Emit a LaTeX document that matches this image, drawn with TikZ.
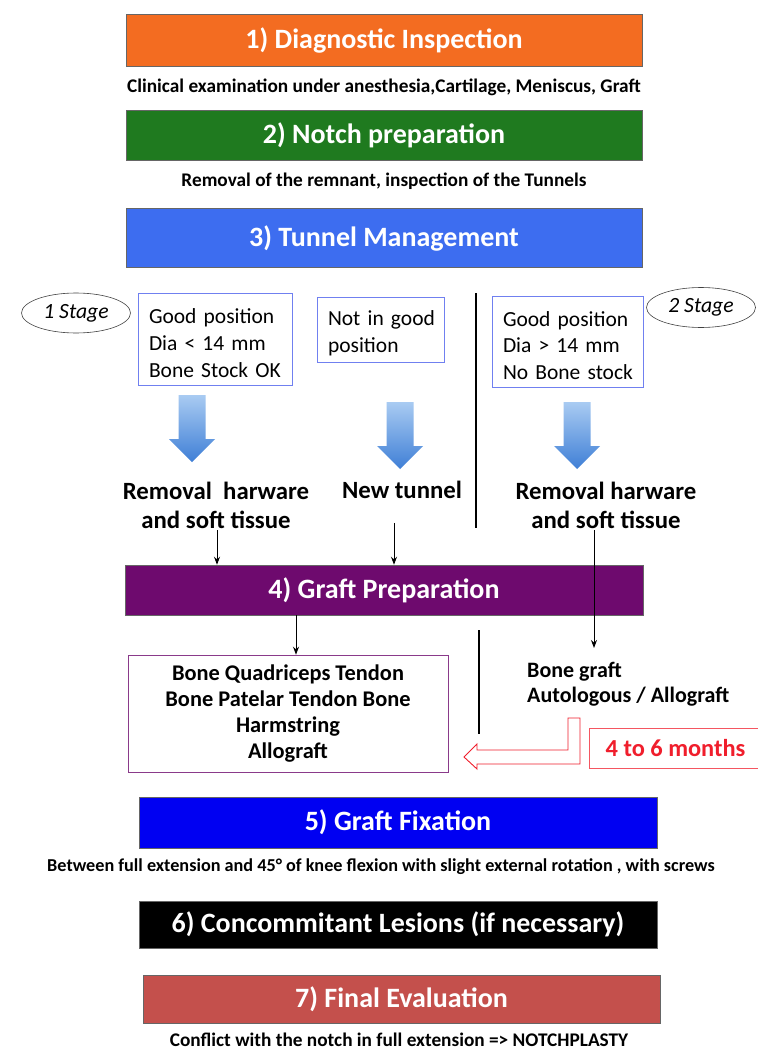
\documentclass[tikz,border=0pt]{standalone}
\usepackage{fontspec}
\setmainfont{Carlito}
\usetikzlibrary{shapes.geometric,arrows.meta,calc}
\definecolor{cone}{HTML}{F36C21}
\definecolor{ctwo}{HTML}{1F7A1F}
\definecolor{cthree}{HTML}{3D6DF0}
\definecolor{cfour}{HTML}{6E0A6E}
\definecolor{cfive}{HTML}{0000F2}
\definecolor{cseven}{HTML}{C4504C}
\definecolor{condblue}{HTML}{7080F0}
\definecolor{gpurple}{HTML}{8A3A8A}
\definecolor{redc}{HTML}{F01E2C}
\definecolor{arrtop}{HTML}{A9CBF2}
\definecolor{arrbot}{HTML}{3F7FD6}
\begin{document}
\begin{tikzpicture}[x=1pt,y=-1pt,
  bar/.style={draw=black!60, line width=0.5pt, minimum width=516pt, inner sep=0pt, text=white, font=\fontsize{28}{32}\selectfont\bfseries},
  sub/.style={inner sep=1pt, font=\fontsize{19.3}{22}\selectfont\bfseries},
  cond/.style={draw=condblue, line width=0.6pt, inner xsep=11pt, inner ysep=0pt, align=left, font=\fontsize{21.5}{26.7}\selectfont},
  stage/.style={ellipse, draw=black!75, line width=0.6pt, inner sep=0pt, minimum width=109pt, minimum height=40pt, font=\fontsize{21.7}{24}\selectfont\itshape},
  lab/.style={inner sep=1pt, align=center, font=\fontsize{24.8}{29}\selectfont\bfseries},
  conn/.style={-{Stealth[length=8pt,width=6pt]}, line width=1pt, black},
  sep/.style={line width=1.3pt, black},
  barrow/.pic={\shade[top color=arrtop, bottom color=arrbot] (-13.5,0) -- (13.5,0) -- (13.5,44) -- (23,44) -- (0,67) -- (-23,44) -- (-13.5,44) -- cycle;}
]
\path[use as bounding box, fill=white] (0,0) rectangle (757,1051);

\node[bar, fill=cone, minimum height=52pt] (b1) at (384,40) {1) Diagnostic Inspection};
\node[sub] (s1) at (384,87) {Clinical examination under anesthesia,Cartilage, Meniscus, Graft};
\node[bar, fill=ctwo, minimum height=50pt] (b2) at (384,135) {2) Notch preparation};
\node[sub] (s2) at (384,181) {Removal of the remnant, inspection of the Tunnels};
\node[bar, fill=cthree, minimum height=59pt] (b3) at (384,238) {3) Tunnel Management};

\node[stage] (e1) at (76,313) {1 Stage};
\node[stage] (e2) at (701,307.5) {2 Stage};
\node[cond, text width=132pt, minimum height=92pt] (m1) at (215,339) {\rule{0pt}{23pt}\mbox{Good position}\\\mbox{Dia < 14 mm}\\\mbox{Bone Stock OK}};
\node[cond, text width=105pt, minimum height=65pt] (m2) at (380.5,329.5) {\rule{0pt}{23pt}\mbox{Not in good}\\\mbox{position}};
\node[cond, text width=129pt, minimum height=91pt] (m3) at (567.5,341.5) {\rule{0pt}{23pt}\mbox{Good position}\\\mbox{Dia > 14 mm}\\\mbox{No Bone stock}};

\draw[sep] (476,293) -- (476,528);

\pic at (192,395) {barrow};
\pic at (400,402) {barrow};
\pic at (577,402) {barrow};

\node[lab] (t1) at (216,505) {Removal~~harware\\and soft tissue};
\node[lab] (t2) at (402,490) {New tunnel};
\node[lab] (t3) at (606,505) {Removal harware\\and soft tissue};

\node[bar, fill=cfour, minimum width=518pt, minimum height=50pt] (b4) at (384,590) {4) Graft Preparation};

\node[draw=gpurple, line width=0.6pt, minimum width=320pt, minimum height=117pt, inner sep=0pt, align=center, font=\fontsize{22.4}{26.3}\selectfont\bfseries] (g1) at (288,713.5) {Bone Quadriceps Tendon\\Bone Patelar Tendon Bone\\Harmstring\\Allograft};
\node[inner sep=0pt, anchor=north west, align=left, font=\fontsize{22}{25}\selectfont\bfseries] (bg) at (527,662) {Bone graft\\Autologous / Allograft};

\coordinate (k1) at ($(t1.south)+(1,1)$);
\draw[conn] (k1) -- (k1 |- b4.north);
\coordinate (k2) at ($(t2.south)+(-8,23)$);
\draw[conn] (k2) -- (k2 |- b4.north);
\coordinate (k3) at ($(t3.south)+(-12,1)$);
\coordinate (k3e) at ($(k3 |- bg.north)+(0,-14)$);
\draw[conn] (k3) -- (k3e);
\coordinate (k4) at ($(b4.south)+(-88,0)$);
\draw[conn] (k4) -- (k4 |- g1.north);

\draw[sep] (479,630) -- (479,734);

\draw[redc, fill=white, line width=0.9pt, line join=miter] (568,718) -- (580,718) -- (580,764) -- (477,764) -- (477,769) -- (464,757) -- (477,744) -- (477,750) -- (568,750) -- cycle;
\node[draw=redc!75, line width=0.6pt, minimum width=173pt, minimum height=40pt, inner sep=0pt, text=redc, font=\fontsize{24.4}{28}\selectfont\bfseries] (mo) at (675.5,748) {4 to 6 months};

\node[bar, fill=cfive, minimum width=518pt, minimum height=51pt] (b5) at (398,822.5) {5) Graft Fixation};
\node[sub, font=\fontsize{18.2}{22}\selectfont\bfseries] (s5) at (381,867) {Between full extension and 45° of knee flexion with slight external rotation , with screws};
\node[bar, fill=black, minimum width=518pt, minimum height=47pt] (b6) at (398,924.5) {6) Concommitant Lesions (if necessary)};
\node[bar, fill=cseven, minimum width=517pt, minimum height=48pt] (b7) at (401.5,999) {7) Final Evaluation};
\node[sub, inner sep=0pt] (s7) at (399,1039.5) {Conflict with the notch in full extension => NOTCHPLASTY};
\end{tikzpicture}
\end{document}
